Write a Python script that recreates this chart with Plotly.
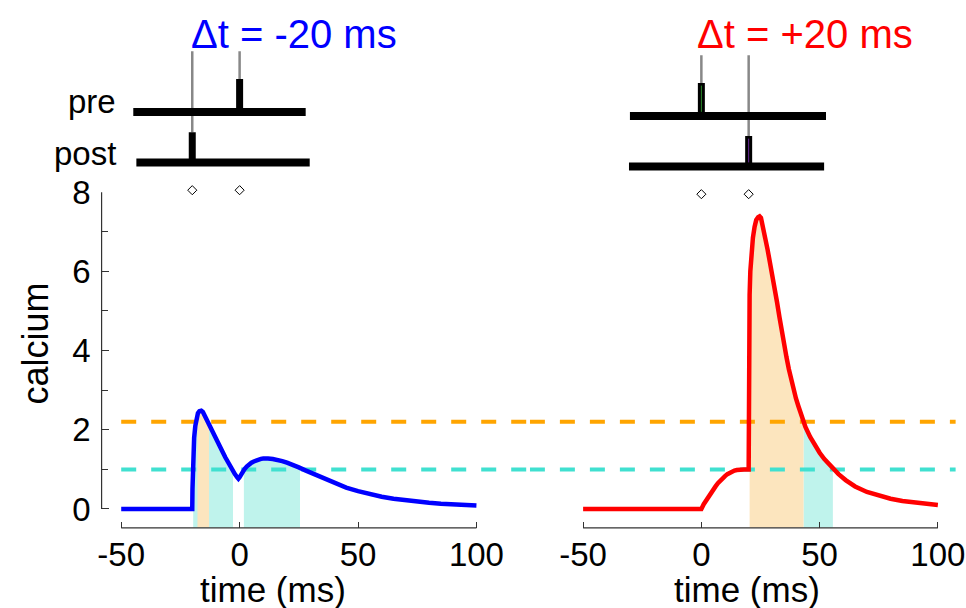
import numpy as np
import plotly.graph_objects as go

# ---------------- data ----------------
# Calcium trace for delta t = -20 ms (post spike at -20, pre spike at 0)
t_neg = [-50, -20.0, -19.9, -19.8, -19.6, -19.2, -18.7, -18.2, -17.6, -17.0, -16.2,
         -15.5, -14.8, -14.0, -13.0, -12.0, -11.0, -10.0, -9.0, -8.0, -7.0, -6.0,
         -5.0, -4.0, -3.0, -2.0, -1.0, -0.5, 0.0, 0.5, 1.0, 2.0, 3.0, 4.0, 5.0, 6.0,
         7.0, 8.0, 9.0, 10.0, 11.0, 12.0, 14.0, 16.0, 18.0, 20.0, 22.0, 25.0, 28.0,
         32.0, 36.0, 40.0, 45.0, 50.0, 55.0, 60.0, 65.0, 70.0, 75.0, 80.0, 85.0,
         90.0, 95.0, 100.0]
ca_neg = [0.0, 0.0, 0.5, 1.0, 1.4, 1.8, 2.1, 2.3, 2.42, 2.47, 2.48,
          2.45, 2.37, 2.28, 2.16, 2.04, 1.91, 1.79, 1.67, 1.55, 1.42, 1.3,
          1.18, 1.07, 0.97, 0.88, 0.8, 0.765, 0.8, 0.86, 0.92, 1.0, 1.07, 1.13, 1.17, 1.2,
          1.23, 1.25, 1.265, 1.275, 1.28, 1.275, 1.26, 1.24, 1.21, 1.17, 1.13, 1.05, 0.97,
          0.87, 0.77, 0.66, 0.54, 0.45, 0.37, 0.31, 0.26, 0.22, 0.18, 0.155, 0.13,
          0.115, 0.10, 0.09]

# Calcium trace for delta t = +20 ms (pre spike at 0, post spike at 20)
t_pos = [-50, 0, 1, 2, 3, 4, 5, 6, 7, 8, 9, 10, 11, 12, 13, 14, 15, 16, 18, 20,
         20.05, 20.2, 20.4, 20.7, 21.2, 21.8, 22.5, 23.2, 24.0, 24.6, 25.2, 26, 27,
         28, 29, 30, 31, 32, 33, 34, 35, 36, 37, 38, 39, 40, 41, 42, 43, 44, 46, 48,
         50, 52, 55, 58, 61, 65, 70, 75, 80, 85, 90, 95, 100]
ca_pos = [0.0, 0.0, 0.12, 0.22, 0.31, 0.4, 0.49, 0.57, 0.65, 0.72, 0.78, 0.83, 0.88,
          0.92, 0.95, 0.97, 0.985, 0.995, 1.0, 1.0,
          3.0, 4.6, 5.4, 6.0, 6.5, 6.85, 7.12, 7.3, 7.37, 7.39, 7.35, 7.15, 6.88,
          6.55, 6.22, 5.92, 5.58, 5.22, 4.85, 4.47, 4.13, 3.83, 3.53, 3.26, 3.01,
          2.79, 2.6, 2.4, 2.23, 2.07, 1.82, 1.6,
          1.42, 1.26, 1.05, 0.88, 0.73, 0.57, 0.43, 0.33, 0.26, 0.2, 0.16, 0.13, 0.1]

theta_p = 2.2   # potentiation threshold (orange)
theta_d = 1.0   # depression threshold (turquoise)

# time windows above threshold (shaded)
ltd_neg = [(-19.6, -2.8), (1.8, 25.5)]
ltp_neg = [(-17.8, -12.9)]
ltd_pos = [(43.2, 55.6)]
ltp_pos = [(20.4, 43.2)]

pre_neg, post_neg = [0], [-20]
pre_pos, post_pos = [0], [20]
# raster baseline extents (ms)
pre_line_neg, post_line_neg = (-44.9, 27.9), (-43.6, 29.6)
pre_line_pos, post_line_pos = (-30.2, 52.7), (-30.6, 51.9)

xticks = [-50, 0, 50, 100]
xtick_text = ["-50", "0", "50", "100"]
yticks = [0, 2, 4, 6, 8]

# ---------------- styling ----------------
W, H = 966, 608
FONT = "Liberation Sans, Arial, Helvetica, sans-serif"
BLUE, RED = "#0000FF", "#FF0000"
ORANGE, TEAL = "#FFA500", "#40E0D0"
ORANGE_FILL, TEAL_FILL = "#FCE5BE", "#BFF3EC"
AX = "#333333"
Y_BASE = -0.475

def px_x(p):
    return p / W

def px_y(p):
    return 1 - p / H

fig = go.Figure()

def region(t, c, a, b, color, xa, ya):
    t = np.asarray(t, float)
    c = np.asarray(c, float)
    inner = (t > a) & (t < b)
    xs = [a] + list(t[inner]) + [b, b, a]
    ys = [float(np.interp(a, t, c))] + list(c[inner]) + [float(np.interp(b, t, c)), Y_BASE, Y_BASE]
    fig.add_trace(go.Scatter(x=xs, y=ys, mode="lines", line=dict(width=0),
                             fill="toself", fillcolor=color, hoverinfo="skip",
                             xaxis=xa, yaxis=ya))

def hline(x0, x1, yv, color, xa, ya):
    fig.add_trace(go.Scatter(x=[x0, x1], y=[yv, yv], mode="lines",
                             line=dict(color=color, width=4, dash="15px,15px"),
                             hoverinfo="skip", xaxis=xa, yaxis=ya))

# left panel
for a, b in ltd_neg:
    region(t_neg, ca_neg, a, b, TEAL_FILL, "x", "y")
for a, b in ltp_neg:
    region(t_neg, ca_neg, a, b, ORANGE_FILL, "x", "y")
hline(-50, 122.5, theta_p, ORANGE, "x", "y")
hline(-50, 122.5, theta_d, TEAL, "x", "y")
fig.add_trace(go.Scatter(x=t_neg, y=ca_neg, mode="lines", line=dict(color=BLUE, width=4.5),
                         hoverinfo="skip", xaxis="x", yaxis="y"))

# right panel
for a, b in ltd_pos:
    region(t_pos, ca_pos, a, b, TEAL_FILL, "x2", "y2")
for a, b in ltp_pos:
    region(t_pos, ca_pos, a, b, ORANGE_FILL, "x2", "y2")
hline(-72.5, 107.5, theta_p, ORANGE, "x2", "y2")
hline(-72.5, 107.5, theta_d, TEAL, "x2", "y2")
fig.add_trace(go.Scatter(x=t_pos, y=ca_pos, mode="lines", line=dict(color=RED, width=4.5),
                         hoverinfo="skip", xaxis="x2", yaxis="y2"))

# spike rasters (pre row = 1, post row = 0)
def raster(pre, post, pre_line, post_line, xa, ya, inner_pre=None, inner_post=None):
    for s in post:
        fig.add_trace(go.Scatter(x=[s, s], y=[0.6, 2.2], mode="lines",
                                 line=dict(color="#888888", width=2.5), hoverinfo="skip",
                                 xaxis=xa, yaxis=ya))
    for s in pre:
        fig.add_trace(go.Scatter(x=[s, s], y=[1.65, 2.2], mode="lines",
                                 line=dict(color="#888888", width=2.5), hoverinfo="skip",
                                 xaxis=xa, yaxis=ya))
    fig.add_trace(go.Scatter(x=list(pre_line), y=[1, 1], mode="lines",
                             line=dict(color="black", width=8), hoverinfo="skip",
                             xaxis=xa, yaxis=ya))
    fig.add_trace(go.Scatter(x=list(post_line), y=[0, 0], mode="lines",
                             line=dict(color="black", width=8), hoverinfo="skip",
                             xaxis=xa, yaxis=ya))
    for s in pre:
        fig.add_trace(go.Scatter(x=[s, s], y=[1, 1.65], mode="lines",
                                 line=dict(color="black", width=7), hoverinfo="skip",
                                 xaxis=xa, yaxis=ya))
        if inner_pre:
            fig.add_trace(go.Scatter(x=[s, s], y=[1.08, 1.6], mode="lines",
                                     line=dict(color=inner_pre, width=1), hoverinfo="skip",
                                     xaxis=xa, yaxis=ya))
    for s in post:
        fig.add_trace(go.Scatter(x=[s, s], y=[0, 0.6], mode="lines",
                                 line=dict(color="black", width=7), hoverinfo="skip",
                                 xaxis=xa, yaxis=ya))
        if inner_post:
            fig.add_trace(go.Scatter(x=[s, s], y=[0.08, 0.55], mode="lines",
                                     line=dict(color=inner_post, width=1), hoverinfo="skip",
                                     xaxis=xa, yaxis=ya))
    spikes = sorted(pre + post)
    fig.add_trace(go.Scatter(x=spikes, y=[-0.55] * len(spikes), mode="markers",
                             marker=dict(symbol="diamond-open", size=7, color="black",
                                         line=dict(width=1, color="black")),
                             hoverinfo="skip", xaxis=xa, yaxis=ya))

raster(pre_neg, post_neg, pre_line_neg, post_line_neg, "x", "y3")
raster(pre_pos, post_pos, pre_line_pos, post_line_pos, "x2", "y4",
       inner_pre="#2a8a2a", inner_post="#6a2a9a")

tickfont = dict(family=FONT, size=33, color="black")
main_dom = [px_y(527), px_y(176)]
common_x = dict(tickvals=xticks, ticktext=xtick_text, ticks="inside", ticklen=6, tickwidth=1,
                tickcolor=AX, showgrid=False, zeroline=False, showline=False,
                tickfont=tickfont, ticklabelstandoff=4, ticklabeloverflow="allow")

fig.update_layout(
    width=W, height=H, margin=dict(l=0, r=0, t=0, b=0),
    paper_bgcolor="white", plot_bgcolor="white", showlegend=False,
    xaxis=dict(domain=[px_x(98), px_x(528)], range=[-58.28, 122.54], anchor="y", **common_x),
    yaxis=dict(domain=main_dom, range=[Y_BASE, 8.3], anchor="x", tickvals=yticks,
               ticks="inside", ticklen=7, tickwidth=1, tickcolor=AX,
               minor=dict(dtick=1, tick0=0, ticks="inside", ticklen=6, tickwidth=1, tickcolor=AX),
               showgrid=False, zeroline=False, showline=False, tickfont=tickfont,
               ticklabelstandoff=10),
    xaxis2=dict(domain=[px_x(528), 1], range=[-72.53, 111.89], anchor="y2", **common_x),
    yaxis2=dict(domain=main_dom, range=[Y_BASE, 8.3], anchor="x2", visible=False),
    yaxis3=dict(domain=[px_y(200), 1], range=[-0.824, 3.098], anchor="x", visible=False),
    yaxis4=dict(domain=[px_y(200), 1], range=[-0.745, 3.176], anchor="x2", visible=False),
)

# axis lines (offset, spanning only the data range)
fig.add_shape(type="line", xref="x", yref="y domain", x0=-50, x1=100, y0=0, y1=0,
              line=dict(color=AX, width=1.2))
fig.add_shape(type="line", xref="x2", yref="y2 domain", x0=-50, x1=100, y0=0, y1=0,
              line=dict(color=AX, width=1.2))
fig.add_shape(type="line", xref="x domain", yref="y", x0=0, x1=0, y0=0, y1=8,
              line=dict(color=AX, width=1.2))

def ann(text, x, y, size, color="black", xanchor="center", angle=0):
    fig.add_annotation(text=text, x=x, y=y, xref="paper", yref="paper", showarrow=False,
                       xanchor=xanchor, yanchor="middle", textangle=angle,
                       font=dict(family=FONT, size=size, color=color))

ann("Δt = -20 ms", px_x(186), px_y(28), 40, BLUE, "left")
ann("Δt = +20 ms", px_x(694), px_y(28), 40, RED, "left")
ann("pre", px_x(114), px_y(96), 33, xanchor="right")
ann("post", px_x(114), px_y(149), 33, xanchor="right")
ann("calcium", px_x(32), px_y(341), 36, angle=-90)
ann("time (ms)", px_x(270), px_y(589), 35)
ann("time (ms)", px_x(746), px_y(589), 35)

fig.write_html("out.html", config={"displayModeBar": False},
               post_script="document.body.style.margin='0px';"
                           "document.body.style.overflow='hidden';")
